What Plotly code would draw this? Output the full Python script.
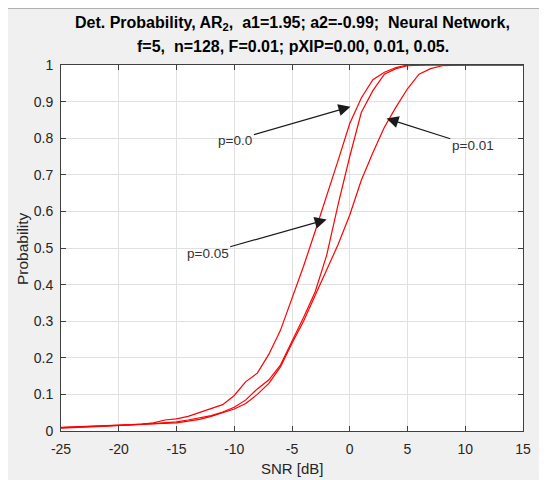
import plotly.graph_objects as go

snr_db = list(range(-25, 16))

# p = 0.0 (leftmost curve)
prob_p000 = [0.008, 0.010, 0.011, 0.012, 0.013, 0.016, 0.017, 0.019, 0.022, 0.030,
             0.033, 0.040, 0.050, 0.062, 0.072, 0.097, 0.135, 0.158, 0.210, 0.275,
             0.362, 0.450, 0.545, 0.640, 0.740, 0.840, 0.910, 0.960, 0.980, 0.993,
             1.0, 1.0, 1.0, 1.0, 1.0, 1.0, 1.0, 1.0, 1.0, 1.0, 1.0]
# p = 0.05 (middle curve)
prob_p005 = [0.009, 0.010, 0.011, 0.012, 0.014, 0.015, 0.016, 0.018, 0.020, 0.022,
             0.025, 0.030, 0.036, 0.042, 0.052, 0.065, 0.085, 0.115, 0.140, 0.180,
             0.245, 0.310, 0.380, 0.480, 0.620, 0.750, 0.870, 0.930, 0.975, 0.990,
             0.998, 1.0, 1.0, 1.0, 1.0, 1.0, 1.0, 1.0, 1.0, 1.0, 1.0]
# p = 0.01 (rightmost curve)
prob_p001 = [0.010, 0.011, 0.012, 0.013, 0.014, 0.015, 0.016, 0.017, 0.019, 0.020,
             0.022, 0.027, 0.032, 0.040, 0.050, 0.060, 0.075, 0.100, 0.130, 0.175,
             0.240, 0.300, 0.370, 0.440, 0.510, 0.590, 0.685, 0.760, 0.830, 0.885,
             0.935, 0.975, 0.990, 0.998, 1.0, 1.0, 1.0, 1.0, 1.0, 1.0, 1.0]

x_ticks = [-25, -20, -15, -10, -5, 0, 5, 10, 15]
y_ticks = [0, 0.1, 0.2, 0.3, 0.4, 0.5, 0.6, 0.7, 0.8, 0.9, 1]
y_tick_labels = ["0", "0.1", "0.2", "0.3", "0.4", "0.5", "0.6", "0.7", "0.8", "0.9", "1"]

labels = ["p=0.0", "p=0.01", "p=0.05"]
label_text_pos = [(-9.9, 0.795), (10.65, 0.779), (-12.3, 0.486)]
label_arrow_tip = [(0.06, 0.886), (3.18, 0.854), (-2.0, 0.578)]

title_line1 = "Det. Probability, AR<sub>2</sub>,  a1=1.95; a2=-0.99;  Neural Network,"
title_line2 = "f=5,  n=128, F=0.01; pXIP=0.00, 0.01, 0.05."
x_title = "SNR [dB]"
y_title = "Probability"

# page offset (default body margin) is 8px
OFF = 8
W, H = 539, 472
L, R, T, B = 53, 24, 57, 49
pw, ph = W - L - R, H - T - B

def fx(px):  # page px -> paper fraction
    return (px - OFF - L) / pw

def fy(py):
    return (H - B - (py - OFF)) / ph

fig = go.Figure()
for yv in [prob_p000, prob_p005, prob_p001]:
    fig.add_trace(go.Scatter(x=snr_db, y=yv, mode="lines",
                             line=dict(color="#ff0000", width=1.2),
                             showlegend=False, hoverinfo="skip"))

font_fam = "Liberation Sans, Arial, sans-serif"
annots = []
for txt, (tx, ty), (hx, hy) in zip(labels, label_text_pos, label_arrow_tip):
    annots.append(dict(x=hx, y=hy, ax=tx, ay=ty, xref="x", yref="y", axref="x", ayref="y",
                       text=txt, showarrow=True, arrowhead=2, arrowsize=2.0, arrowwidth=1.2,
                       arrowcolor="#1a1a1a", font=dict(family=font_fam, size=13.5, color="#333333")))
annots.append(dict(x=fx(292), y=fy(24), xref="paper", yref="paper", text="<b>" + title_line1 + "</b>",
                   showarrow=False, font=dict(family=font_fam, size=16, color="#000000"),
                   xanchor="center", yanchor="middle"))
annots.append(dict(x=fx(293), y=fy(47), xref="paper", yref="paper", text="<b>" + title_line2 + "</b>",
                   showarrow=False, font=dict(family=font_fam, size=16, color="#000000"),
                   xanchor="center", yanchor="middle"))
annots.append(dict(x=fx(292), y=fy(468), xref="paper", yref="paper", text=x_title,
                   showarrow=False, font=dict(family=font_fam, size=15, color="#262626"),
                   xanchor="center", yanchor="middle"))
annots.append(dict(x=fx(22), y=fy(249), xref="paper", yref="paper", text=y_title, textangle=-90,
                   showarrow=False, font=dict(family=font_fam, size=15.5, color="#262626"),
                   xanchor="center", yanchor="middle"))

shapes = [
    dict(type="line", xref="paper", yref="paper", x0=fx(OFF), x1=fx(OFF + W), y0=fy(OFF + 0.5),
         y1=fy(OFF + 0.5), line=dict(color="#b0b0b0", width=1), layer="below"),
]

axis_common = dict(showline=True, linecolor="#404040", linewidth=1, mirror="ticks",
                   ticks="inside", ticklen=5, tickcolor="#404040", automargin=False,
                   showgrid=True, gridcolor="#e0e0e0", gridwidth=1, zeroline=False,
                   tickfont=dict(family=font_fam, size=14, color="#262626"))

fig.update_layout(
    width=W, height=H,
    margin=dict(l=L, r=R, t=T, b=B),
    paper_bgcolor="#f0f0f0", plot_bgcolor="#ffffff",
    annotations=annots, shapes=shapes,
    xaxis=dict(range=[-25, 15], tickvals=x_ticks, ticktext=[str(v) for v in x_ticks],
               ticklabelstandoff=5, **axis_common),
    yaxis=dict(range=[0, 1], tickvals=y_ticks, ticktext=y_tick_labels,
               ticklabelstandoff=4, **axis_common),
)

fig.write_html("out.html")
